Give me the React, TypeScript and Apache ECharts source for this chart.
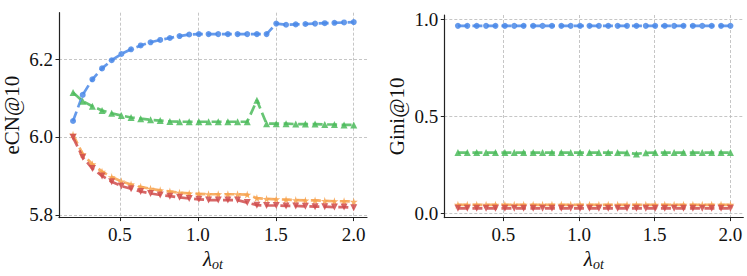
import React, { useEffect, useRef } from "react";
import * as echarts from "echarts";

const lambdaOt = [
  0.2, 0.262, 0.324, 0.386, 0.448, 0.51, 0.572, 0.634, 0.697, 0.759,
  0.821, 0.883, 0.945, 1.007, 1.069, 1.131, 1.193, 1.255, 1.317, 1.379,
  1.441, 1.503, 1.566, 1.628, 1.69, 1.752, 1.814, 1.876, 1.938, 2.0,
];

// eCN@10
const ecnBlue = [
  6.041, 6.108, 6.148, 6.176, 6.197, 6.213, 6.225, 6.235, 6.243, 6.249,
  6.254, 6.259, 6.263, 6.264, 6.264, 6.264, 6.264, 6.264, 6.264, 6.264,
  6.264, 6.291, 6.288, 6.289, 6.29, 6.291, 6.292, 6.293, 6.294, 6.295,
];
const ecnGreen = [
  6.114, 6.092, 6.079, 6.068, 6.061, 6.055, 6.05, 6.047, 6.044, 6.042,
  6.04, 6.039, 6.039, 6.039, 6.039, 6.039, 6.039, 6.039, 6.039, 6.094,
  6.034, 6.034, 6.034, 6.033, 6.033, 6.033, 6.032, 6.032, 6.031, 6.031,
];
const ecnOrange = [
  6.006, 5.956, 5.93, 5.911, 5.897, 5.886, 5.878, 5.872, 5.867, 5.863,
  5.86, 5.857, 5.855, 5.854, 5.853, 5.853, 5.853, 5.853, 5.852, 5.843,
  5.841, 5.84, 5.839, 5.838, 5.837, 5.837, 5.836, 5.835, 5.835, 5.834,
];
const ecnRed = [
  5.999, 5.948, 5.919, 5.9, 5.885, 5.874, 5.867, 5.86, 5.855, 5.851,
  5.848, 5.845, 5.842, 5.84, 5.838, 5.838, 5.838, 5.838, 5.8315, 5.825,
  5.824, 5.824, 5.823, 5.823, 5.822, 5.821, 5.821, 5.82, 5.82, 5.818,
];

// Gini@10
const giniBlue = [
  0.965, 0.965, 0.965, 0.965, 0.965, 0.965, 0.965, 0.965, 0.965, 0.965,
  0.965, 0.965, 0.965, 0.965, 0.965, 0.965, 0.965, 0.965, 0.965, 0.965,
  0.965, 0.965, 0.965, 0.965, 0.965, 0.965, 0.965, 0.965, 0.965, 0.965,
];
const giniGreen = [
  0.312, 0.312, 0.312, 0.312, 0.312, 0.312, 0.312, 0.312, 0.312, 0.312,
  0.312, 0.312, 0.312, 0.312, 0.312, 0.312, 0.312, 0.312, 0.311, 0.305,
  0.311, 0.312, 0.312, 0.312, 0.312, 0.312, 0.312, 0.312, 0.312, 0.312,
];
const giniOrange = [
  0.043, 0.043, 0.043, 0.043, 0.043, 0.043, 0.043, 0.043, 0.043, 0.043,
  0.043, 0.043, 0.043, 0.043, 0.043, 0.043, 0.043, 0.043, 0.043, 0.043,
  0.043, 0.043, 0.043, 0.043, 0.043, 0.043, 0.043, 0.043, 0.043, 0.043,
];
const giniRed = [
  0.025, 0.025, 0.025, 0.025, 0.025, 0.025, 0.025, 0.025, 0.025, 0.025,
  0.025, 0.025, 0.025, 0.025, 0.025, 0.025, 0.025, 0.025, 0.025, 0.025,
  0.025, 0.025, 0.025, 0.025, 0.025, 0.025, 0.025, 0.025, 0.025, 0.025,
];

const xTicks = [0.5, 1.0, 1.5, 2.0];
const ecnTicks = [5.8, 6.0, 6.2];
const giniTicks = [0.0, 0.5, 1.0];

const BLUE = "#4A88E8";
const GREEN = "#4CBB5C";
const ORANGE = "#F7A24E";
const RED = "#D04C4C";
const STAR =
  "path://M50,0 L61,35 L98,35 L68,57 L79,91 L50,70 L21,91 L32,57 L2,35 L39,35 Z";

const FONT = "Liberation Serif";
const INK = "#111111";

function pairs(ys: number[]) {
  return lambdaOt.map((x, i) => [x, ys[i]]);
}

function mkSeries(
  ys: number[],
  color: string,
  symbol: string,
  size: number,
  idx: number,
  rotate = 0
) {
  return {
    type: "line",
    xAxisIndex: idx,
    yAxisIndex: idx,
    data: pairs(ys),
    symbol,
    symbolSize: size,
    symbolRotate: rotate,
    showSymbol: true,
    lineStyle: { color, width: 2.7, type: [10, 4.5], opacity: 0.85 },
    itemStyle: { color, opacity: 0.85 },
    z: 3,
  };
}

const tickLabel = {
  fontFamily: FONT,
  fontSize: 19,
  color: INK,
};

function xAxis(idx: number) {
  return {
    type: "value",
    gridIndex: idx,
    min: 0.11,
    max: 2.085,
    name: "{a|λ}{b|ot}",
    nameLocation: "middle",
    nameGap: 29,
    nameTextStyle: {
      rich: {
        a: { fontFamily: FONT, fontStyle: "italic", fontSize: 21, color: INK },
        b: {
          fontFamily: FONT,
          fontStyle: "italic",
          fontSize: 14,
          color: INK,
          padding: [10, 0, 0, 0],
        },
      },
    },
    axisLine: { show: true, onZero: false, lineStyle: { color: "#222", width: 1.2 } },
    axisTick: {
      show: true,
      inside: false,
      length: 3.5,
      customValues: xTicks,
      lineStyle: { color: "#222", width: 1 },
    },
    axisLabel: {
      ...tickLabel,
      customValues: xTicks,
      formatter: (v: number) => v.toFixed(1),
      margin: 7,
    },
    splitLine: { show: true, lineStyle: { color: "#b8b8b8", width: 0.8, type: [3, 2] } },
  };
}

function yAxis(
  idx: number,
  min: number,
  max: number,
  ticks: number[],
  name: string
) {
  return {
    type: "value",
    gridIndex: idx,
    min,
    max,
    name,
    nameLocation: "middle",
    nameGap: 37,
    nameTextStyle: { fontFamily: FONT, fontSize: 21, color: INK },
    axisLine: { show: true, onZero: false, lineStyle: { color: "#222", width: 1.2 } },
    axisTick: {
      show: true,
      inside: false,
      length: 3.5,
      customValues: ticks,
      lineStyle: { color: "#222", width: 1 },
    },
    axisLabel: {
      ...tickLabel,
      customValues: ticks,
      formatter: (v: number) => v.toFixed(1),
      margin: 6,
    },
    splitLine: { show: true, lineStyle: { color: "#b8b8b8", width: 0.8, type: [3, 2] } },
  };
}

export default function App() {
  const ref = useRef<HTMLDivElement>(null);
  useEffect(() => {
    if (!ref.current) return;
    const chart = echarts.init(ref.current, null, { renderer: "svg" });
    chart.setOption({
      animation: false,
      backgroundColor: "#ffffff",
      textStyle: { fontFamily: FONT, color: INK },
      grid: [
        { left: 58.7, top: 12.7, width: 308.3, height: 213.3, containLabel: false },
        { left: 444.3, top: 15, width: 299, height: 210.7, containLabel: false },
      ],
      xAxis: [xAxis(0), xAxis(1)],
      yAxis: [
        yAxis(0, 5.793, 6.319, ecnTicks, "eCN@10"),
        yAxis(1, -0.023, 1.021, giniTicks, "Gini@10"),
      ],
      series: [
        mkSeries(ecnBlue, BLUE, "circle", 6, 0),
        mkSeries(ecnGreen, GREEN, "triangle", 7, 0),
        mkSeries(ecnOrange, ORANGE, STAR, 8, 0),
        mkSeries(ecnRed, RED, "triangle", 7, 0, 180),
        mkSeries(giniBlue, BLUE, "circle", 6, 1),
        mkSeries(giniGreen, GREEN, "triangle", 7, 1),
        mkSeries(giniOrange, ORANGE, STAR, 8, 1),
        mkSeries(giniRed, RED, "triangle", 7, 1, 180),
      ],
    });
    return () => chart.dispose();
  }, []);
  return (
    <div
      ref={ref}
      style={{ position: "fixed", left: 0, top: 0, width: 747, height: 276, background: "#fff" }}
    />
  );
}
